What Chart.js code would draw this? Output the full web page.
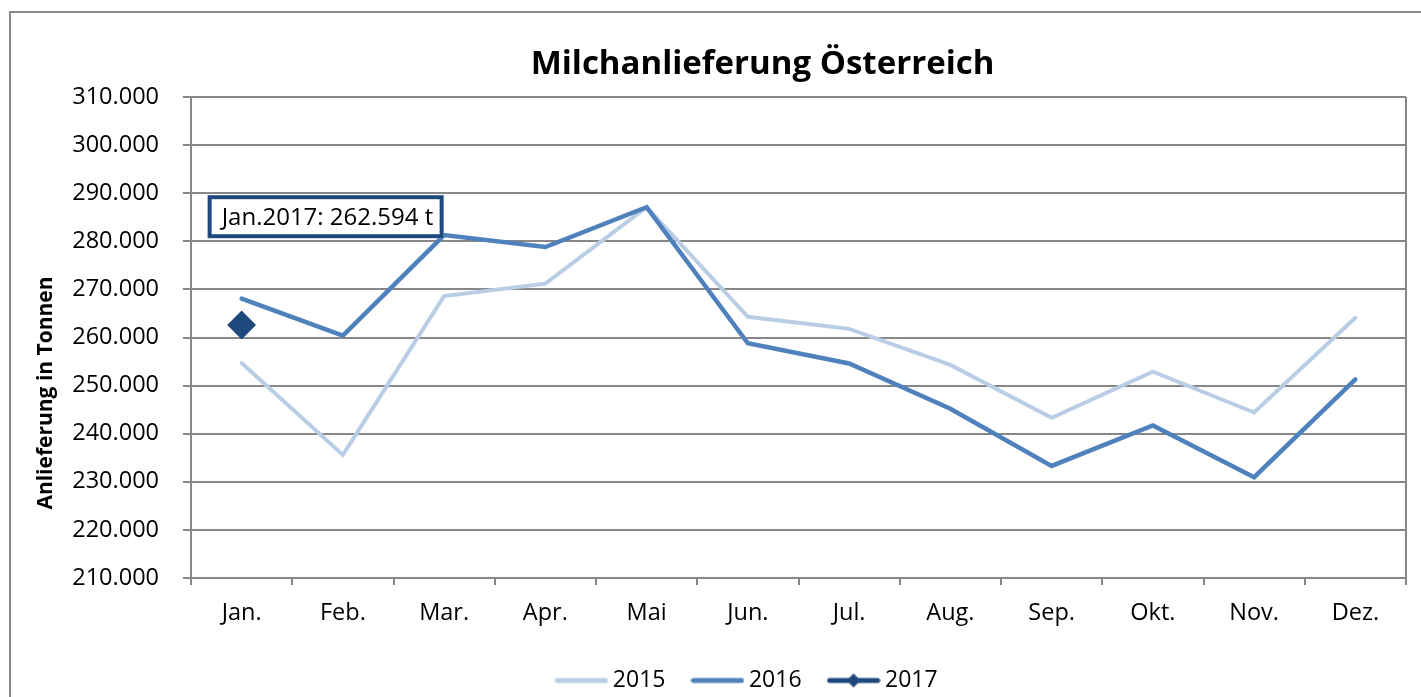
<!DOCTYPE html>
<html>
<head>
<meta charset="utf-8">
<script src="https://cdn.jsdelivr.net/npm/chart.js@4/dist/chart.umd.min.js"></script>
<style>
  html, body { margin: 0; padding: 0; background: #fff; }
  #wrap { width: 1421px; height: 697px; }
</style>
</head>
<body>
<div id="wrap"><canvas id="milk-chart"></canvas></div>
<script>
const months = ['Jan.', 'Feb.', 'Mar.', 'Apr.', 'Mai', 'Jun.', 'Jul.', 'Aug.', 'Sep.', 'Okt.', 'Nov.', 'Dez.'];
const years = ['2015', '2016', '2017'];
const values2015 = [254700, 235600, 268600, 271200, 287100, 264300, 261800, 254300, 243300, 252900, 244400, 264100];
const values2016 = [268100, 260400, 281300, 278800, 287100, 258800, 254600, 245200, 233300, 241700, 230950, 251300];
const values2017 = [262594, null, null, null, null, null, null, null, null, null, null, null];
const yMin = 210000;
const yMax = 310000;
const yStep = 10000;

const colors = ['#B9CDE5', '#4F81BD', '#1F497D'];
const gridColor = '#878787';

const fmt = (v) => v.toLocaleString('de-DE');

// little legend icons: line, line, line with diamond
function legendIcon(color, diamond) {
  const c = document.createElement('canvas');
  c.width = 54;
  c.height = 16;
  const g = c.getContext('2d');
  g.strokeStyle = color;
  g.lineWidth = 5;
  g.lineCap = 'round';
  g.beginPath();
  g.moveTo(3, 8);
  g.lineTo(51, 8);
  g.stroke();
  if (diamond) {
    g.fillStyle = color;
    g.beginPath();
    g.moveTo(27, 1);
    g.lineTo(34, 8);
    g.lineTo(27, 15);
    g.lineTo(20, 8);
    g.closePath();
    g.fill();
  }
  return c;
}
const icons = [legendIcon(colors[0]), legendIcon(colors[1]), legendIcon(colors[2], true)];

const frame = {
  id: 'frame',
  beforeDraw(chart) {
    const ctx = chart.ctx;
    ctx.save();
    ctx.fillStyle = '#fff';
    ctx.fillRect(0, 0, chart.width, chart.height);
    ctx.strokeStyle = '#898989';
    ctx.lineWidth = 2;
    ctx.strokeRect(10, 12, 1500, 1000);
    ctx.restore();
  },
  afterLayout(chart) {
    // legend and title sit a bit right of centre in the original
    chart.legend.left += 41;
    chart.legend.right += 41;
    chart.legend.top += 5;
    chart.legend.bottom += 5;
    chart.titleBlock.left += 54;
    chart.titleBlock.right += 54;
  },
  afterDraw(chart) {
    const ctx = chart.ctx;
    const area = chart.chartArea;
    ctx.save();
    // right edge of the plot area
    ctx.strokeStyle = gridColor;
    ctx.lineWidth = 2;
    ctx.beginPath();
    ctx.moveTo(area.right, area.top);
    ctx.lineTo(area.right, area.bottom);
    ctx.stroke();

    // y axis title
    ctx.translate(46, 393);
    ctx.rotate(-Math.PI / 2);
    ctx.fillStyle = '#000';
    ctx.font = 'bold 21px "Open Sans"';
    ctx.textAlign = 'center';
    ctx.textBaseline = 'middle';
    ctx.fillText('Anlieferung in Tonnen', 0, 0);
    ctx.restore();

    // value box for Jan 2017
    const pt = chart.getDatasetMeta(2).data[0];
    const yScale = chart.scales.y;
    const left = pt.x - 34;
    const top = yScale.getPixelForValue(290000) + 2;
    const w = 236, h = 43;
    ctx.save();
    ctx.fillStyle = '#fff';
    ctx.fillRect(left, top, w, h);
    ctx.strokeStyle = colors[2];
    ctx.lineWidth = 4;
    ctx.strokeRect(left + 2, top + 2, w - 4, h - 4);
    ctx.fillStyle = '#000';
    ctx.font = '24px "Open Sans"';
    ctx.textBaseline = 'middle';
    ctx.fillText(months[0] + years[2] + ': ' + fmt(values2017[0]) + ' t', left + 14, top + h / 2 + 1);
    ctx.restore();
  }
};

Chart.defaults.font.family = '"Open Sans", sans-serif';
Chart.defaults.color = '#000';

const chart = new Chart(document.getElementById('milk-chart'), {
  type: 'line',
  data: {
    labels: months,
    datasets: [
      {
        label: years[0],
        data: values2015,
        borderColor: colors[0],
        backgroundColor: colors[0],
        borderWidth: 4,
        borderCapStyle: 'round',
        pointRadius: 0,
        order: 3,
      },
      {
        label: years[1],
        data: values2016,
        borderColor: colors[1],
        backgroundColor: colors[1],
        borderWidth: 4.5,
        borderCapStyle: 'round',
        pointRadius: 0,
        order: 2,
      },
      {
        label: years[2],
        data: values2017,
        borderColor: colors[2],
        backgroundColor: colors[2],
        borderWidth: 2,
        pointStyle: 'rectRot',
        pointRadius: 13,
        order: 1,
      }
    ]
  },
  options: {
    responsive: true,
    maintainAspectRatio: false,
    animation: false,
    layout: { padding: { left: 0, right: 4, top: 0, bottom: 0 } },
    scales: {
      x: {
        offset: true,
        grid: {
          display: true,
          offset: true,
          drawOnChartArea: false,
          color: gridColor,
          lineWidth: 2,
          tickLength: 7,
        },
        border: { color: gridColor, width: 2 },
        ticks: { font: { size: 23.5 }, padding: 14, maxRotation: 0 },
        afterFit(scale) { scale.height = 54; }
      },
      y: {
        min: yMin,
        max: yMax,
        grid: { color: gridColor, lineWidth: 2, tickLength: 8 },
        border: { color: gridColor, width: 2 },
        ticks: {
          stepSize: yStep,
          font: { size: 23.5 },
          padding: 24,
          callback: (v) => fmt(v),
        },
        afterFit(scale) { scale.width = 191; }
      }
    },
    plugins: {
      title: {
        display: true,
        text: 'Milchanlieferung Österreich',
        font: { size: 33, weight: 'bold' },
        padding: { top: 45, bottom: 12.4 },
      },
      legend: {
        position: 'bottom',
        labels: {
          usePointStyle: true,
          pointStyleWidth: 40,
          padding: 32,
          font: { size: 23 },
          generateLabels(chart) {
            return Chart.defaults.plugins.legend.labels.generateLabels(chart)
              .sort((a, b) => a.datasetIndex - b.datasetIndex)
              .map((item) => Object.assign(item, { pointStyle: icons[item.datasetIndex] }));
          }
        }
      },
      tooltip: { enabled: false }
    }
  },
  plugins: [frame]
});
</script>
</body>
</html>
